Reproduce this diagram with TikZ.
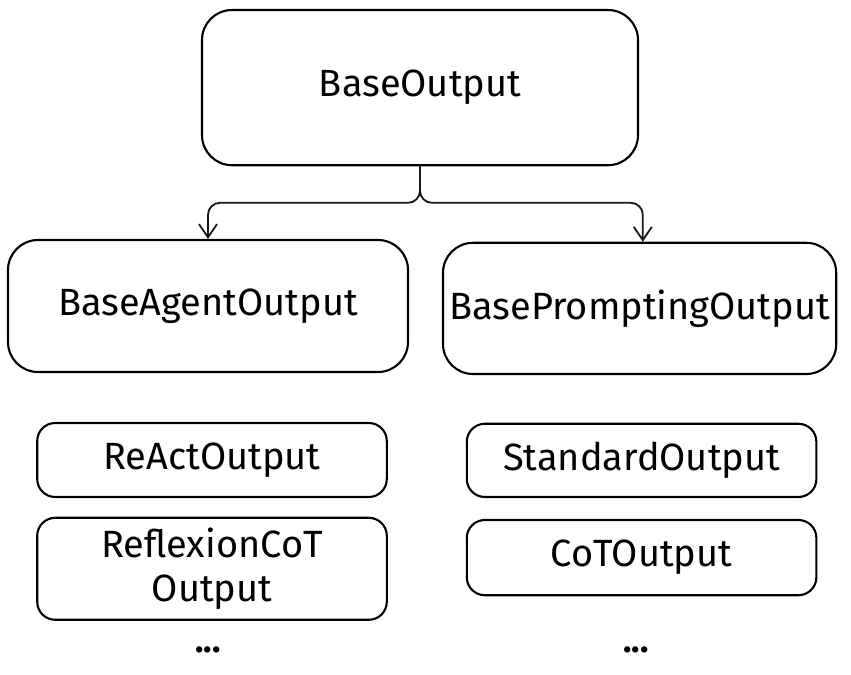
\documentclass[tikz,border=0pt]{standalone}
\usepackage{fontspec}
\setmainfont{Fira Sans}
\usetikzlibrary{arrows.meta}
\begin{document}
\begin{tikzpicture}

\tikzstyle{bignodestyle} = [draw,font={\fontsize{27}{31}\selectfont},line width=1.5pt,rounded corners=0.75cm,inner sep=0,align=center]
\tikzstyle{smallnodestyle} = [draw,font={\fontsize{27}{31}\selectfont},line width=1.5pt,rounded corners=0.45cm,inner sep=0,align=center,minimum width=8.74cm]
\tikzstyle{dotsstyle} = [font={\fontsize{25}{31}\selectfont\bfseries}]
\tikzstyle{black_arrow_edge} = [-{Straight Barb[length=3.3mm,width=4.5mm]}, draw=black!90, line width=1.3pt, rounded corners=0.3cm]

\useasboundingbox (0,0) rectangle (21.275,16.85);

\node [bignodestyle,minimum width=10.9cm,minimum height=3.88cm] (v1) at (10.5,14.66) {BaseOutput};
\node [bignodestyle,minimum width=10cm,minimum height=3.3cm] (v2) at (5.2,9.2) {BaseAgentOutput};
\node [bignodestyle,minimum width=9.83cm,minimum height=3.28cm] (v3) at (15.99,9.14) {BasePromptingOutput};

\node [smallnodestyle,minimum height=1.85cm] (v4) at (5.3,5.35) {ReActOutput};
\node [smallnodestyle,minimum height=2.55cm] (v5) at (5.3,2.63) {ReflexionCoT\\Output};
\node [smallnodestyle,minimum height=1.83cm] (v6) at (16.04,5.34) {StandardOutput};
\node [smallnodestyle,minimum height=1.88cm] (v7) at (16.04,2.91) {CoTOutput};

\node [dotsstyle] (d1) at (5.2,0.6) {...};
\node [dotsstyle] (d2) at (15.9,0.6) {...};

\coordinate (j1) at (10.5,11.78);
\draw [black_arrow_edge] (v1.south) -- (j1) -| (v2.north);
\draw [black_arrow_edge] (v1.south) -- (j1) -| ([xshift=0.08cm]v3.north);
\end{tikzpicture}
\end{document}
